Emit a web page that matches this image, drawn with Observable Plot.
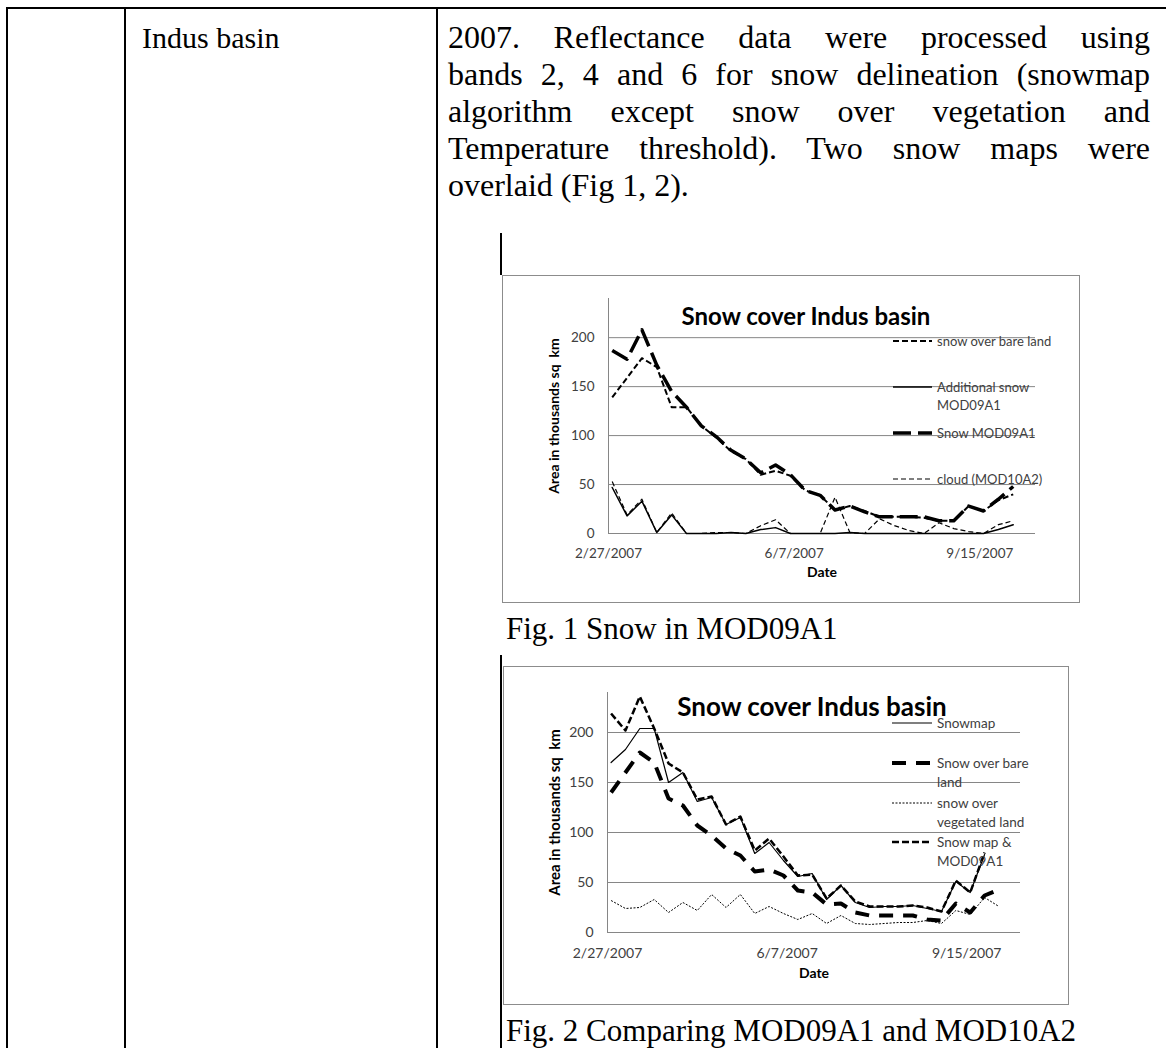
<!DOCTYPE html>
<html><head><meta charset="utf-8">
<script src="https://cdn.jsdelivr.net/npm/d3@7"></script>
<script src="https://cdn.jsdelivr.net/npm/@observablehq/plot@0.6"></script>
<style>
body{margin:0;background:#fff;}
#page{position:relative;width:1166px;height:1048px;overflow:hidden;font-family:"Liberation Serif","Times New Roman",serif;color:#000;}
.hl{position:absolute;background:#000;}
.txt{position:absolute;font-size:32px;line-height:37px;white-space:nowrap;}
.just{text-align:justify;text-align-last:justify;}
.cap{position:absolute;font-size:31px;line-height:37px;white-space:nowrap;}
.chart{position:absolute;outline:1px solid #8c8c8c;outline-offset:-1px;}
.chart svg{position:absolute;left:0;top:0;}
</style></head><body><div id="page"></div>
<script>
// ---------- data ----------
const dates = ["2007-03-01","2007-03-09","2007-03-17","2007-03-25","2007-04-02","2007-04-10","2007-04-18","2007-04-26","2007-05-04","2007-05-12","2007-05-20","2007-05-28","2007-06-05","2007-06-13","2007-06-21","2007-06-29","2007-07-07","2007-07-15","2007-07-23","2007-07-31","2007-08-08","2007-08-16","2007-08-24","2007-09-01","2007-09-09","2007-09-17","2007-09-25","2007-10-03"];
const xTickDates = ["2007-02-27","2007-06-07","2007-09-15"];
const xDomain = ["2007-02-27","2007-10-15"];
const yTicks = [0,50,100,150,200];
const yMax = 240;

// Fig. 1
const fig1BareLand   = [139,159,179,170,129,129,110,98,84,76,60,64,59,44,39,24,28,23,17,17,17,16,13,13,28,23,34,40];
const fig1Additional = [47,18,33,1,19,0,0,0,1,0,4,6,0,0,0,0,1,0,0,0,0,0,0,0,0,0,4,9];
const fig1SnowMOD09  = [187,178,208,172,145,129,110,99,85,76,62,70,60,44,39,24,28,22,17,17,17,17,13,13,28,23,35,48];
const fig1Cloud      = [53,19,35,1,21,0,0,1,1,0,8,14,0,0,0,37,1,0,15,8,3,0,11,5,2,0,9,13];
const fig1Legend = [["snow over bare land"],["Additional snow","MOD09A1"],["Snow MOD09A1"],["cloud (MOD10A2)"]];

// Fig. 2
const fig2Snowmap    = [170,183,204,204,150,160,131,135,108,115,79,90,72,56,59,33,47,30,25,26,26,27,24,21,51,40,78,null];
const fig2BareLand   = [140,160,180,170,134,127,107,97,84,77,61,63,57,42,40,28,29,20,17,17,17,17,13,12,29,20,37,43];
const fig2Vegetated  = [32,24,25,33,20,30,22,38,25,38,19,26,19,13,19,9,17,9,8,9,10,10,12,9,22,18,35,26];
const fig2SnowmapMOD = [219,202,236,204,169,160,133,136,108,116,82,94,76,57,58,34,47,31,26,26,26,27,25,21,52,40,80,null];
const fig2Legend = [["Snowmap"],["Snow over bare","land"],["snow over","vegetated land"],["Snow map &","MOD09A1"]];

const chartTitle = "Snow cover Indus basin";
const yLabel = "Area in thousands sq  km";
const xLabel = "Date";

const rowLabel = "Indus basin";
const bodyLines = ["2007. Reflectance data were processed using","bands 2, 4 and 6 for snow delineation (snowmap","algorithm except snow over vegetation and","Temperature threshold). Two snow maps were","overlaid (Fig 1, 2)."];
const caption1 = "Fig. 1 Snow in MOD09A1";
const caption2 = "Fig. 2 Comparing MOD09A1 and MOD10A2";

// ---------- page ----------
const page = document.getElementById("page");
function el(cls, css, text) {
  const d = document.createElement("div");
  d.className = cls; Object.assign(d.style, css);
  if (text != null) d.textContent = text;
  page.appendChild(d); return d;
}
// table rules
el("hl", {left:"6px", top:"7px", width:"1160px", height:"2px"});
el("hl", {left:"6px", top:"7px", width:"2px", height:"1041px"});
el("hl", {left:"124px", top:"7px", width:"2px", height:"1041px"});
el("hl", {left:"436px", top:"7px", width:"2px", height:"1041px"});
el("hl", {left:"500px", top:"233px", width:"2px", height:"42px"});
el("hl", {left:"500px", top:"655px", width:"2px", height:"393px"});

el("txt", {left:"142px", top:"19px", fontSize:"30px"}, rowLabel);
bodyLines.forEach((t, i) => {
  el("txt" + (i < bodyLines.length - 1 ? " just" : ""), {left:"448px", top:(19 + 37*i) + "px", width:"702px", whiteSpace:"normal"}, t);
});
el("cap", {left:"506px", top:"610px"}, caption1);
el("cap", {left:"506px", top:"1012px"}, caption2);

// ---------- charts ----------
const parse = d3.utcParse("%Y-%m-%d");
const fmt = d => `${d.getUTCMonth()+1}/${d.getUTCDate()}/${d.getUTCFullYear()}`;
const table = vals => dates.map((d, i) => ({date: parse(d), value: vals[i]})).filter(r => r.value != null);

function makeChart(cfg) {
  const box = el("chart", {left: cfg.left + "px", top: cfg.top + "px", width: cfg.width + "px", height: cfg.height + "px"});
  const lines = cfg.series.map(s => Plot.line(table(s.values), {
    x: "date", y: "value", stroke: "#000", strokeWidth: s.w,
    strokeDasharray: s.dash || null, strokeLinecap: s.dash ? "butt" : "round", strokeLinejoin: "round"
  }));
  const chart = Plot.plot({
    width: cfg.width, height: cfg.height,
    marginLeft: cfg.mL, marginRight: cfg.mR, marginTop: cfg.mT, marginBottom: cfg.mB,
    style: {background: "transparent", overflow: "visible", fontFamily: "Lato, sans-serif"},
    x: {type: "utc", domain: xDomain.map(parse), label: null},
    y: {domain: [0, yMax], label: null},
    marks: [
      Plot.gridY(yTicks.filter(v => v > 0), {stroke: "#868686", strokeOpacity: 1}),
      Plot.ruleY([0], {stroke: "#868686"}),
      Plot.ruleX([parse(xTickDates[0])], {stroke: "#868686"}),
      Plot.axisX(xTickDates.map(parse), {tickSize: 0, tickPadding: cfg.xPad, tickFormat: fmt, fontSize: cfg.tickFs, fill: "#404040", label: null}),
      Plot.axisY(yTicks, {tickSize: 0, tickPadding: 14, fontSize: cfg.tickFs, fill: "#404040", label: null}),
      ...lines,
      Plot.text([chartTitle], {frameAnchor: "top", dx: cfg.titleDx, dy: cfg.titleDy, fontSize: cfg.titleFs, fontWeight: "bold", fill: "#000"}),
      Plot.text([yLabel], {frameAnchor: "left", textAnchor: "middle", rotate: -90, dx: cfg.yLabDx, fontSize: cfg.yLabFs, fontWeight: "bold", fill: "#000"}),
      Plot.text([xLabel], {frameAnchor: "bottom", dy: cfg.xLabDy, fontSize: cfg.xLabFs, fontWeight: "bold", fill: "#000"})
    ]
  });
  box.appendChild(chart);
  // legend (inside the chart area, as in the original)
  const svg = d3.select(box).append("svg").attr("width", cfg.width).attr("height", cfg.height).style("overflow", "visible");
  cfg.series.forEach((s, i) => {
    const y = cfg.leg.ys[i];
    svg.append("line").attr("x1", cfg.leg.x1).attr("x2", cfg.leg.x2).attr("y1", y).attr("y2", y)
      .attr("stroke", "#000").attr("stroke-width", s.w).attr("stroke-dasharray", s.dash || null).attr("stroke-linecap", "butt");
    const t = svg.append("text").attr("x", cfg.leg.tx).attr("y", y).attr("font-family", "Lato, sans-serif")
      .attr("font-size", cfg.leg.fs).attr("fill", "#404040");
    cfg.legend[i].forEach((ln, j) => t.append("tspan").attr("x", cfg.leg.tx).attr("dy", j === 0 ? "0.35em" : cfg.leg.lh).text(ln));
  });
}

makeChart({
  left: 502, top: 275, width: 578, height: 328, mL: 106, mR: 45, mT: 23, mB: 70,
  xPad: 15, tickFs: 13.5, titleDx: -16, titleDy: 9, titleFs: 24, yLabDx: -54, yLabFs: 14, xLabDy: 43, xLabFs: 14,
  series: [
    {values: fig1BareLand, w: 2, dash: "6,3"},
    {values: fig1Additional, w: 1.5},
    {values: fig1SnowMOD09, w: 3.5, dash: "18,7"},
    {values: fig1Cloud, w: 1.2, dash: "5,3"}
  ],
  legend: fig1Legend,
  leg: {x1: 391, x2: 430, tx: 435, ys: [66, 112, 158, 204], lh: 18, fs: 13}
});

makeChart({
  left: 503, top: 666, width: 566, height: 339, mL: 104, mR: 49, mT: 26, mB: 73,
  xPad: 16, tickFs: 14, titleDx: -2, titleDy: 5, titleFs: 26, yLabDx: -52, yLabFs: 15, xLabDy: 45, xLabFs: 14,
  series: [
    {values: fig2Snowmap, w: 1.2},
    {values: fig2BareLand, w: 4, dash: "14,10"},
    {values: fig2Vegetated, w: 1, dash: "2,1.5"},
    {values: fig2SnowmapMOD, w: 2.5, dash: "7,3"}
  ],
  legend: fig2Legend,
  leg: {x1: 389, x2: 429, tx: 434, ys: [57, 97, 137, 176], lh: 19, fs: 13.5}
});
</script></body></html>
